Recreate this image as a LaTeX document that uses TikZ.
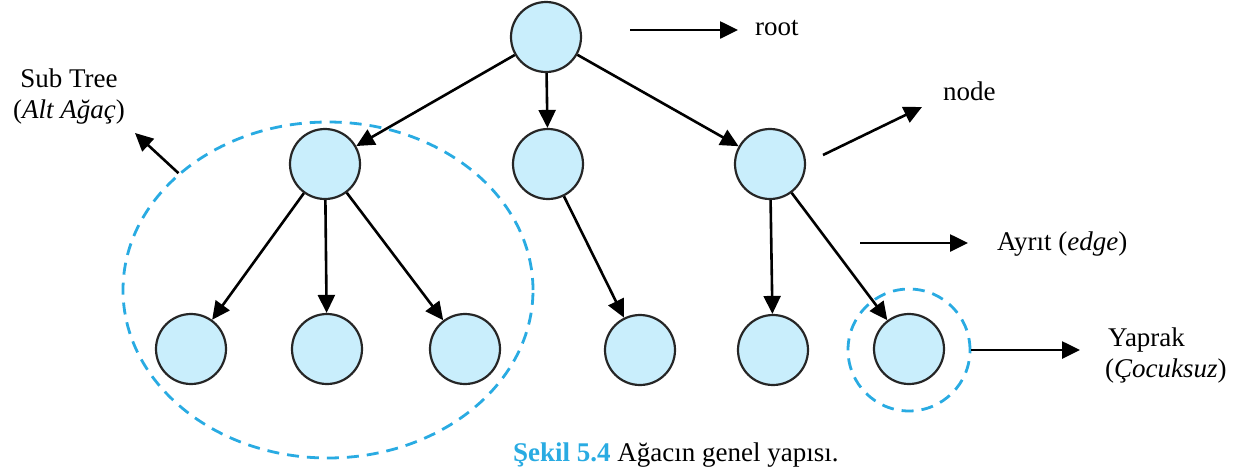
\documentclass[tikz,border=0pt]{standalone}
\usepackage{fontspec}
\setmainfont{Liberation Serif}
\usetikzlibrary{arrows.meta,shapes.geometric}
\definecolor{nodefill}{HTML}{C9EEFC}
\definecolor{dashblue}{HTML}{29ABE2}
\begin{document}
\begin{tikzpicture}[x=1pt,y=-1pt,
  treenode/.style={circle,draw=black!85,line width=2.2pt,fill=nodefill,minimum size=70pt,inner sep=0pt},
  link/.style={line width=2.6pt,-{Triangle[length=18pt,width=17pt]}},
  group/.style={draw=dashblue,line width=2.8pt,dash pattern=on 12pt off 8pt,inner sep=0pt},
  lbl/.style={font=\fontsize{27}{31}\selectfont,inner sep=0pt}]
\useasboundingbox (0,0) rectangle (1237,472);

% tree nodes
\node[treenode] (r)  at (546,37)  {};
\node[treenode] (a)  at (325,164) {};
\node[treenode] (b)  at (548,164) {};
\node[treenode] (c)  at (770,164) {};
\node[treenode] (a1) at (191,349) {};
\node[treenode] (a2) at (327,349) {};
\node[treenode] (a3) at (465,349) {};
\node[treenode] (b1) at (640,350) {};
\node[treenode] (c1) at (773,350) {};
\node[treenode] (c2) at (909,349) {};

% edges
\draw[link] (r) -- (a);
\draw[link] (r) -- (b);
\draw[link] (r) -- (c);
\draw[link] (a) -- (a1);
\draw[link] (a) -- (a2);
\draw[link] (a) -- (a3);
\draw[link] (b) -- (b1);
\draw[link] (c) -- (c1);
\draw[link] (c) -- (c2);

% dashed groupings
\node[group,ellipse,minimum width=410pt,minimum height=336pt] (sub) at (328,290) {};
\node[group,circle,minimum size=122pt] (ring) at (909,350) {};

% labels
\node[lbl,anchor=base west] (troot) at (755,35) {root};
\node[lbl,anchor=base west] (tnode) at (943,100) {node};
\node[lbl,anchor=base west] (tedge) at (997,250) {Ayrıt (\textit{edge})};
\node[lbl,anchor=base west,align=left] (tleaf) at (1105,377) {\hspace*{3pt}Yaprak\\(\textit{Çocuksuz})};
\node[lbl,anchor=base,align=center] (tsub) at (69,118) {Sub Tree\\(\textit{Alt Ağaç})};
\node[lbl,anchor=base west] (cap) at (513,461) {{\color{dashblue}\bfseries Şekil 5.4} Ağacın genel yapısı.};

% pointer arrows
\coordinate (rootA) at (630,30);
\coordinate (rootB) at (738,30);
\draw[link] (rootA) -- (rootB);
\coordinate (nodeA) at (823,155);
\coordinate (nodeB) at (922,107);
\draw[link] (nodeA) -- (nodeB);
\coordinate (edgeA) at (860,243);
\coordinate (edgeB) at (968,243);
\draw[link] (edgeA) -- (edgeB);
\coordinate (leafB) at (1080,350);
\draw[link] (ring.east) -- (leafB);
\coordinate (subB) at (135,133);
\draw[link] (sub.142) -- (subB);
\end{tikzpicture}
\end{document}
